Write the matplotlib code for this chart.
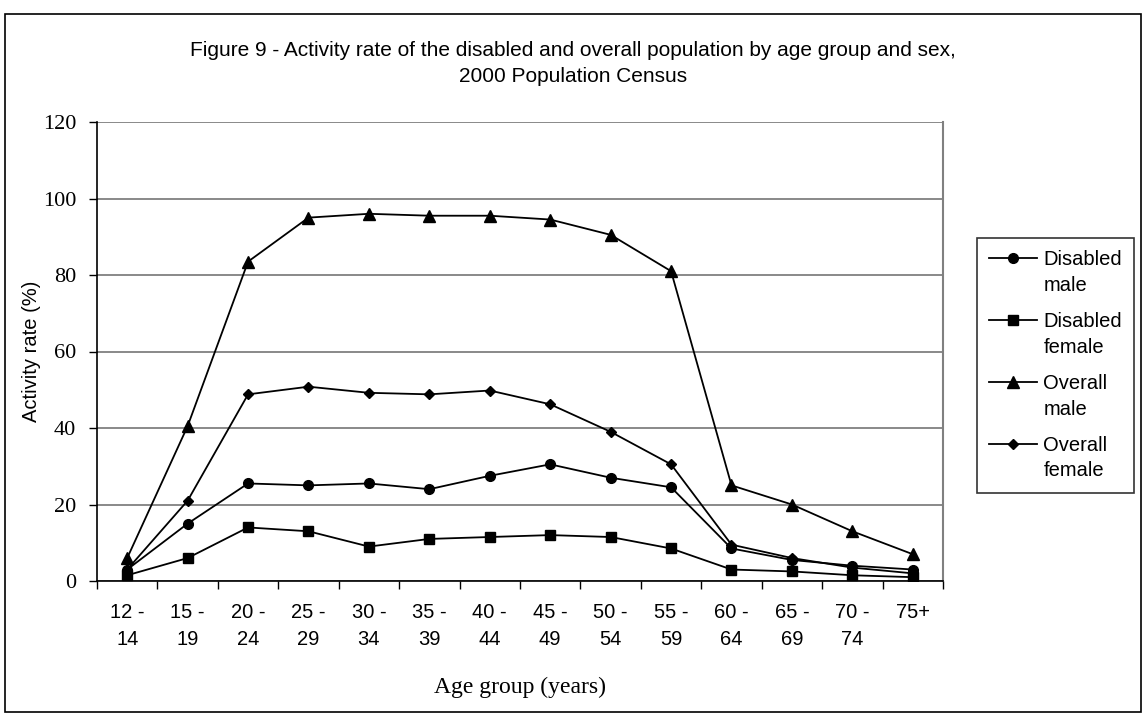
import numpy as np
import matplotlib.pyplot as plt
from matplotlib.patches import Rectangle
from matplotlib.legend_handler import HandlerLine2D

ages = ["12 -\n14", "15 -\n19", "20 -\n24", "25 -\n29", "30 -\n34", "35 -\n39", "40 -\n44",
        "45 -\n49", "50 -\n54", "55 -\n59", "60 -\n64", "65 -\n69", "70 -\n74", "75+\n"]

disabled_male = [3, 15, 25.5, 25, 25.5, 24, 27.5, 30.5, 27, 24.5, 8.5, 5.5, 4, 3]
disabled_female = [1.5, 6, 14, 13, 9, 11, 11.5, 12, 11.5, 8.5, 3, 2.5, 1.5, 1]
overall_male = [6, 40.5, 83.5, 95, 96, 95.5, 95.5, 94.5, 90.5, 81, 25, 20, 13, 7]
overall_female = [3, 21, 48.8, 50.8, 49.2, 48.8, 49.8, 46.2, 39, 30.5, 9.5, 6, 3.5, 2]

sans = "Liberation Sans"
serif = "Liberation Serif"


class FirstLineHandler(HandlerLine2D):
    # put the legend line level with the first line of a two-line label
    def create_artists(self, legend, orig_handle, xdescent, ydescent, width, height, fontsize, trans):
        arts = super().create_artists(legend, orig_handle, xdescent, ydescent,
                                      width, height, fontsize, trans)
        for a in arts:
            a.set_ydata(np.asarray(a.get_ydata()) + 10.5)
        return arts


fig = plt.figure(figsize=(11.46, 7.18), dpi=100)
# outer chart border
fig.patches.append(Rectangle((5 / 1146, 6 / 718), 1136 / 1146, 698 / 718, transform=fig.transFigure,
                             fill=False, edgecolor="black", linewidth=1.2))

ax = fig.add_axes([97 / 1146, 1 - 581 / 718, (943 - 97) / 1146, (581 - 122) / 718])

x = np.arange(len(ages))
ax.plot(x, disabled_male, "-o", color="black", ms=7, lw=1.3, label="Disabled\nmale")
ax.plot(x, disabled_female, "-s", color="black", ms=7, lw=1.3, label="Disabled\nfemale")
ax.plot(x, overall_male, "-^", color="black", ms=8, lw=1.3, label="Overall\nmale")
ax.plot(x, overall_female, "-D", color="black", ms=5.5, lw=1.3, label="Overall\nfemale")

ax.set_xlim(-0.5, len(ages) - 0.5)
ax.set_ylim(0, 120)
ax.set_yticks(np.arange(0, 121, 20))
ax.yaxis.grid(True, color="#808080", lw=1.3)
ax.set_axisbelow(True)

ax.set_xticks(np.arange(-0.5, len(ages), 1))
ax.set_xticklabels([])
ax.set_xticks(x, minor=True)
ax.set_xticklabels(ages, minor=True, fontfamily=sans, fontsize=14.5, linespacing=1.55)
ax.tick_params(axis="x", which="minor", length=0, pad=16)
ax.tick_params(axis="x", which="major", length=6, direction="out", width=1)
ax.tick_params(axis="y", length=6, direction="out", width=1, pad=9)
for lab in ax.get_yticklabels():
    lab.set_fontfamily(serif)
    lab.set_fontsize(16)

ax.spines["top"].set_visible(False)
ax.spines["right"].set_color("#808080")
ax.spines["right"].set_linewidth(1.5)
ax.spines["left"].set_linewidth(1.2)
ax.spines["bottom"].set_linewidth(1.2)

ax.set_ylabel("Activity rate (%)", fontfamily=sans, fontsize=14.5, labelpad=1)
ax.set_xlabel("Age group (years)", fontfamily=serif, fontsize=17, labelpad=20)

fig.text(0.5, 1 - 50 / 718, "Figure 9 - Activity rate of the disabled and overall population by age group and sex,",
         ha="center", va="center", fontfamily=sans, fontsize=15)
fig.text(0.5, 1 - 77 / 718, "2000 Population Census",
         ha="center", va="center", fontfamily=sans, fontsize=15)

leg = fig.legend(loc="upper left", bbox_to_anchor=(977 / 1146, 1 - 238 / 718),
                 prop={"family": sans, "size": 14.5}, frameon=True, fancybox=False,
                 edgecolor="black", handlelength=2.4, handletextpad=0.3,
                 labelspacing=0.85, borderpad=0.6, borderaxespad=0,
                 handler_map={plt.Line2D: FirstLineHandler()})
leg.get_frame().set_linewidth(1.2)
for t in leg.get_texts():
    t.set_linespacing(1.45)

plt.savefig("out.png", dpi=100)
